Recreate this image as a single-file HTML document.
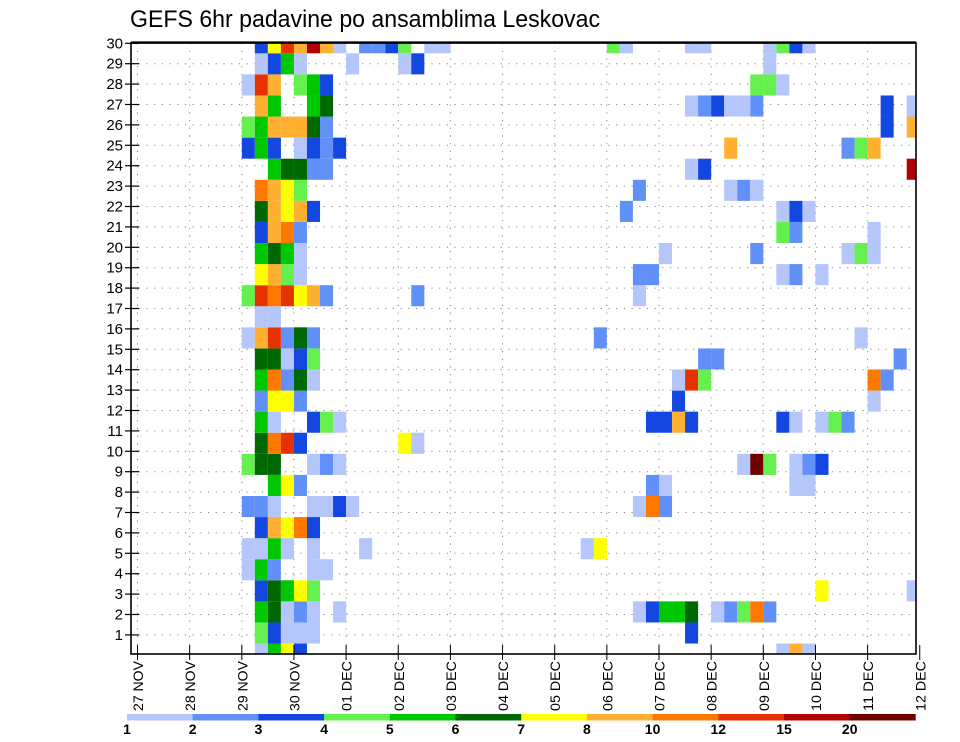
<!DOCTYPE html>
<html><head><meta charset="utf-8">
<style>
html,body{margin:0;padding:0;background:#fff;}
svg{display:block;font-family:"Liberation Sans",sans-serif;}
</style></head>
<body>
<svg id="chart" width="960" height="742" viewBox="0 0 960 742" xmlns="http://www.w3.org/2000/svg">
<rect width="960" height="742" fill="#fff"/>
<text x="130" y="27" font-size="24" textLength="470" lengthAdjust="spacingAndGlyphs" fill="#000">GEFS 6hr padavine po ansamblima Leskovac</text>
<g id="grid"></g>
<g id="cells"></g>
<rect x="131" y="43" width="785" height="611" fill="none" stroke="#000" stroke-width="1.6"/>
<line x1="131" y1="42.5" x2="916" y2="42.5" stroke="#000" stroke-width="2.2"/>
<g id="axes"></g>
<g id="legend"></g>
</svg>
<script>
// ---- data ----
const dayLabels = ["27 NOV","28 NOV","29 NOV","30 NOV","01 DEC","02 DEC","03 DEC","04 DEC","05 DEC","06 DEC","07 DEC","08 DEC","09 DEC","10 DEC","11 DEC","12 DEC"];
const memberTicks = [1,2,3,4,5,6,7,8,9,10,11,12,13,14,15,16,17,18,19,20,21,22,23,24,25,26,27,28,29,30];
const legendLevels = [1,2,3,4,5,6,7,8,10,12,15,20];
const legendColors = ["#b4c6fa","#6090f8","#1446e0","#66f050","#00c800","#006800","#ffff00","#ffb030","#ff7800","#e63200","#b00000","#700000"];
// per-member 6-hourly precipitation: [timestep index from 27 NOV 00Z, mm]
const m30 = [[9,3.5],[10,7.5],[11,13],[12,9],[13,17],[14,9],[15,1.5],[17,2.5],[18,2.5],[19,3.5],[20,4.5],[22,1.5],[23,1.5],[36,4.5],[37,1.5],[42,1.5],[43,1.5],[48,1.5],[49,4.5],[50,3.5],[51,1.5]];
const m29 = [[9,1.5],[10,3.5],[11,5.5],[12,1.5],[16,1.5],[20,1.5],[21,3.5],[48,1.5]];
const m28 = [[8,1.5],[9,13],[10,9],[12,4.5],[13,5.5],[14,3.5],[47,4.5],[48,4.5],[49,1.5]];
const m27 = [[9,9],[10,5.5],[13,5.5],[14,6.5],[42,1.5],[43,2.5],[44,3.5],[45,1.5],[46,1.5],[47,2.5],[57,3.5],[59,1.5]];
const m26 = [[8,4.5],[9,5.5],[10,9],[11,9],[12,9],[13,6.5],[14,2.5],[57,3.5],[59,9]];
const m25 = [[8,3.5],[9,5.5],[10,3.5],[12,1.5],[13,3.5],[14,2.5],[15,3.5],[45,9],[54,2.5],[55,4.5],[56,9]];
const m24 = [[10,5.5],[11,6.5],[12,6.5],[13,2.5],[14,2.5],[42,1.5],[43,3.5],[59,17]];
const m23 = [[9,11],[10,9],[11,7.5],[12,4.5],[38,2.5],[45,1.5],[46,2.5],[47,1.5]];
const m22 = [[9,6.5],[10,9],[11,7.5],[12,9],[13,3.5],[37,2.5],[49,1.5],[50,3.5],[51,1.5]];
const m21 = [[9,3.5],[10,9],[11,11],[12,2.5],[49,4.5],[50,2.5],[56,1.5]];
const m20 = [[9,5.5],[10,6.5],[11,5.5],[12,1.5],[40,1.5],[47,2.5],[54,1.5],[55,4.5],[56,1.5]];
const m19 = [[9,7.5],[10,9],[11,4.5],[12,1.5],[38,2.5],[39,2.5],[49,1.5],[50,2.5],[52,1.5]];
const m18 = [[8,4.5],[9,13],[10,11],[11,13],[12,7.5],[13,9],[14,2.5],[21,2.5],[38,1.5]];
const m17 = [[9,1.5],[10,1.5]];
const m16 = [[8,1.5],[9,9],[10,13],[11,2.5],[12,6.5],[13,2.5],[35,2.5],[55,1.5]];
const m15 = [[9,6.5],[10,6.5],[11,1.5],[12,3.5],[13,4.5],[43,2.5],[44,2.5],[58,2.5]];
const m14 = [[9,5.5],[10,11],[11,2.5],[12,6.5],[13,1.5],[41,1.5],[42,13],[43,4.5],[56,11],[57,2.5]];
const m13 = [[9,2.5],[10,7.5],[11,7.5],[12,2.5],[41,3.5],[56,1.5]];
const m12 = [[9,5.5],[10,1.5],[13,3.5],[14,4.5],[15,1.5],[39,3.5],[40,3.5],[41,9],[42,3.5],[49,3.5],[50,1.5],[52,1.5],[53,4.5],[54,2.5]];
const m11 = [[9,6.5],[10,11],[11,13],[12,3.5],[20,7.5],[21,1.5]];
const m10 = [[8,4.5],[9,6.5],[10,6.5],[13,1.5],[14,2.5],[15,1.5],[46,1.5],[47,22],[48,4.5],[50,1.5],[51,2.5],[52,3.5]];
const m9 = [[10,5.5],[11,7.5],[12,2.5],[39,2.5],[40,1.5],[50,1.5],[51,1.5]];
const m8 = [[8,2.5],[9,2.5],[10,1.5],[13,1.5],[14,1.5],[15,3.5],[16,1.5],[38,1.5],[39,11],[40,2.5]];
const m7 = [[9,3.5],[10,9],[11,7.5],[12,11],[13,3.5]];
const m6 = [[8,1.5],[9,1.5],[10,5.5],[11,1.5],[13,1.5],[17,1.5],[34,1.5],[35,7.5]];
const m5 = [[8,1.5],[9,5.5],[10,2.5],[13,1.5],[14,1.5]];
const m4 = [[9,3.5],[10,6.5],[11,5.5],[12,7.5],[13,4.5],[52,7.5],[59,1.5]];
const m3 = [[9,5.5],[10,6.5],[11,1.5],[12,2.5],[13,1.5],[15,1.5],[38,1.5],[39,3.5],[40,5.5],[41,5.5],[42,6.5],[44,1.5],[45,2.5],[46,4.5],[47,11],[48,2.5]];
const m2 = [[9,4.5],[10,3.5],[11,1.5],[12,1.5],[13,1.5],[42,3.5]];
const m1 = [[9,1.5],[10,5.5],[11,7.5],[12,3.5],[49,1.5],[50,9],[51,1.5]];
const members = [m1,m2,m3,m4,m5,m6,m7,m8,m9,m10,m11,m12,m13,m14,m15,m16,m17,m18,m19,m20,m21,m22,m23,m24,m25,m26,m27,m28,m29,m30];

// ---- scales ----
const NS="http://www.w3.org/2000/svg";
const PL=131, PR=916, PT=43, PB=654;
function xDay(d){ return 137.5 + d*52.15; }
function xStep(s){ return 137.5 + s*52.15/4; }
function yTick(r){ return 43.3 + (30-r)*20.4; }
function yCellTop(m){ return 53.3 + (29-m)*21.08; }
const cellH = 21.08;
function colorFor(v){ let c=null; for(let i=0;i<legendLevels.length;i++){ if(v>=legendLevels[i]) c=legendColors[i]; } return c; }
function mk(tag, attrs, parent){ const e=document.createElementNS(NS,tag); for(const k in attrs) e.setAttribute(k, attrs[k]); parent.appendChild(e); return e; }

const grid=document.getElementById('grid');
const cells=document.getElementById('cells');
const axes=document.getElementById('axes');
const legend=document.getElementById('legend');

// grid
memberTicks.forEach(r=>{
  if(r===30) return;
  const l=mk('line',{x1:PL,x2:PR,y1:yTick(r),y2:yTick(r),stroke:'#888','stroke-width':1,'stroke-dasharray':'1.2,6.5'},grid);
  
  
});
dayLabels.forEach((d,i)=>{
  const x=xDay(i); if(x<=PL+2||x>=PR-1) return;
  const l=mk('line',{x1:x,x2:x,y1:PT,y2:PB,stroke:'#888','stroke-width':1,'stroke-dasharray':'1.2,6.5'},grid);
  
  
});

// cells
members.forEach((arr,idx)=>{
  const m=idx+1;
  let y0=yCellTop(m), y1=y0+cellH;
  y0=Math.max(y0,PT); y1=Math.min(y1,PB);
  arr.forEach(p=>{
    const c=colorFor(p[1]); if(!c) return;
    let x0=xStep(p[0]), x1=xStep(p[0]+1);
    x0=Math.max(x0,PL); x1=Math.min(x1,PR);
    const r=mk('rect',{x:x0,y:y0,width:x1-x0,height:y1-y0,fill:c},cells);
    
    
  });
});

// y axis
memberTicks.forEach(r=>{
  const y=yTick(r);
  const t=mk('line',{x1:125,x2:139,y1:y,y2:y,stroke:'#000','stroke-width':1.2},axes);
  
  
  const tx=mk('text',{x:123,y:y+5,'font-size':15,'text-anchor':'end',fill:'#000'},axes);
  tx.textContent=r;
  
  
});
// x axis
dayLabels.forEach((d,i)=>{
  const x=xDay(i);
  const t=mk('line',{x1:x,x2:x,y1:645,y2:660,stroke:'#000','stroke-width':1},axes);
  
  
  const tx=mk('text',{transform:'translate('+(x+5.5)+',661) rotate(-90)','font-size':14,'text-anchor':'end',textLength:50,lengthAdjust:'spacingAndGlyphs',fill:'#000'},axes);
  tx.textContent=d;
  
  
});

// legend
const LX0=127, LW=65.7;
legendColors.forEach((c,i)=>{
  const r=mk('rect',{x:LX0+i*LW,y:714,width:LW+0.3,height:6.5,fill:c},legend);
  
  
});
legendLevels.forEach((v,i)=>{
  const tx=mk('text',{x:LX0+i*LW,y:734,'font-size':14,'font-weight':'bold','text-anchor':'middle',fill:'#000'},legend);
  tx.textContent=v;
  
  
});
</script>
</body></html>
